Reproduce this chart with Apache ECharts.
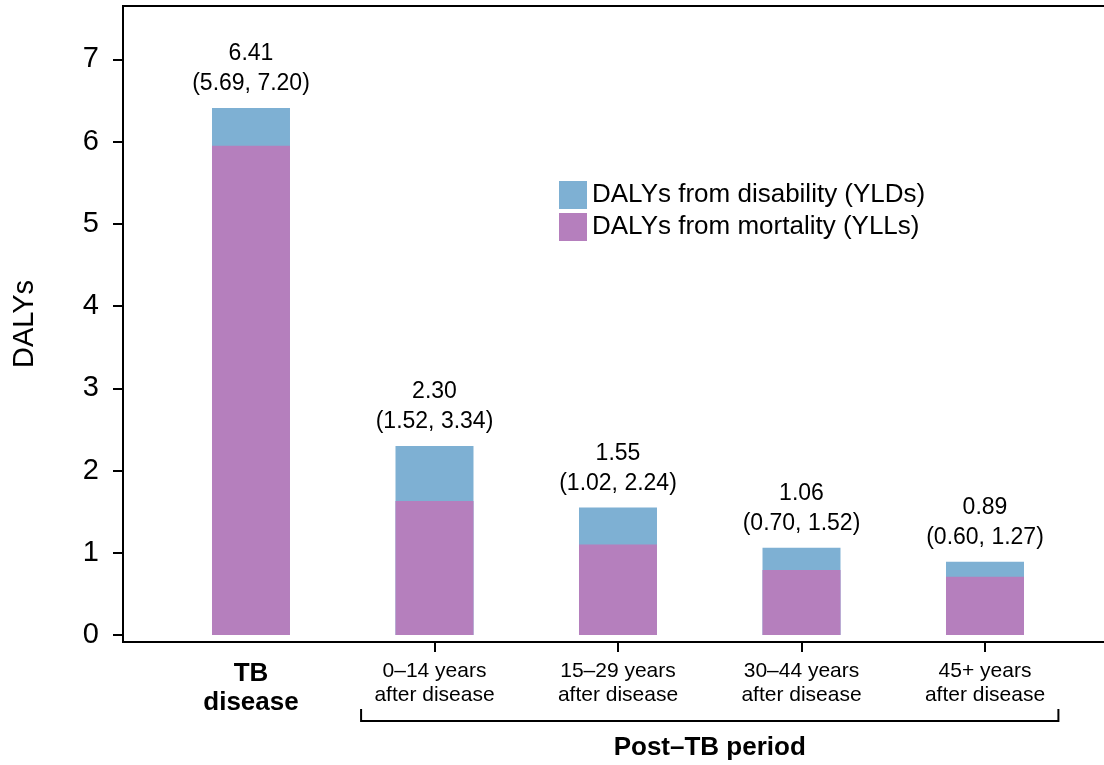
<!DOCTYPE html>
<html>
<head>
<meta charset="utf-8">
<script src="https://cdn.jsdelivr.net/npm/echarts@6.0.0/dist/echarts.min.js"></script>
<style>
  html, body { margin: 0; padding: 0; background: #fff; }
  #chart { width: 1104px; height: 765px; }
</style>
</head>
<body>
<div id="chart"></div>
<script>
// Chart data
const categories = ['TB\ndisease', '0–14 years\nafter disease', '15–29 years\nafter disease',
  '30–44 years\nafter disease', '45+ years\nafter disease'];
const totals = [6.41, 2.30, 1.55, 1.06, 0.89];      // all DALYs (YLL + YLD)
const yllValues = [5.95, 1.63, 1.10, 0.79, 0.71];   // mortality part
const lowerCI = ['5.69', '1.52', '1.02', '0.70', '0.60'];
const upperCI = ['7.20', '3.34', '2.24', '1.52', '1.27'];
const yTicks = [0, 1, 2, 3, 4, 5, 6, 7];
const postTbTicks = [2, 3, 4, 5];
const postTbSpan = [1.6, 5.4];

const FONT = 'Liberation Sans';
const chart = echarts.init(document.getElementById('chart'));

const positions = categories.map((c, i) => i + 1);

const option = {
  backgroundColor: '#fff',
  animation: false,
  textStyle: { fontFamily: FONT, color: '#000' },
  grid: {
    left: 123, top: 6, right: -10, bottom: 123,
    outerBoundsMode: 'none',
    show: true, borderColor: '#000', borderWidth: 2
  },
  legend: {
    orient: 'vertical',
    left: 554, top: 176,
    itemWidth: 28, itemHeight: 28, itemGap: 4,
    icon: 'rect',
    data: ['DALYs from disability (YLDs)', 'DALYs from mortality (YLLs)'],
    textStyle: { fontSize: 26, color: '#000', fontFamily: FONT }
  },
  xAxis: {
    type: 'value',
    min: 0.3025, max: 5.703,
    splitLine: { show: false },
    axisLine: { show: true, onZero: false, lineStyle: { color: '#000', width: 2 } },
    axisTick: { show: true, length: 10, customValues: postTbTicks, lineStyle: { color: '#000', width: 2 } },
    axisLabel: {
      customValues: positions,
      margin: 17,
      color: '#000',
      formatter: function (v) {
        const i = Math.round(v) - 1;
        const lines = categories[i].split('\n');
        const tag = i === 0 ? 'b' : 'n';
        return lines.map(l => '{' + tag + '|' + l + '}').join('\n');
      },
      rich: {
        b: { fontFamily: FONT, fontWeight: 'bold', fontSize: 26, lineHeight: 29, color: '#000' },
        n: { fontFamily: FONT, fontSize: 21, lineHeight: 24, color: '#000' }
      }
    }
  },
  yAxis: {
    type: 'value',
    min: -0.085, max: 7.65,
    name: 'DALYs',
    nameLocation: 'middle',
    nameGap: 84,
    nameTextStyle: { fontSize: 29, color: '#000', fontFamily: FONT },
    splitLine: { show: false },
    axisLine: { show: true, onZero: false, lineStyle: { color: '#000', width: 2 } },
    axisTick: { show: true, length: 10, customValues: yTicks, lineStyle: { color: '#000', width: 2 } },
    axisLabel: { customValues: yTicks, margin: 24, fontSize: 29, color: '#000', fontFamily: FONT }
  },
  series: [
    {
      // full bar height; the mortality part is drawn over its lower section
      name: 'DALYs from disability (YLDs)',
      type: 'bar',
      barWidth: 78,
      barGap: '-100%',
      itemStyle: { color: '#7eb0d3' },
      label: {
        show: true,
        position: 'top',
        distance: 9,
        fontSize: 23,
        lineHeight: 30,
        color: '#000',
        fontFamily: FONT,
        formatter: function (p) {
          const i = p.dataIndex;
          return totals[i].toFixed(2) + '\n(' + lowerCI[i] + ', ' + upperCI[i] + ')';
        }
      },
      data: positions.map((x, i) => [x, totals[i]])
    },
    {
      name: 'DALYs from mortality (YLLs)',
      type: 'bar',
      barWidth: 78,
      barGap: '-100%',
      itemStyle: { color: '#b57fbd' },
      data: positions.map((x, i) => [x, yllValues[i]])
    }
  ]
};

chart.setOption(option);

// Bracket under the post-TB categories, placed through the x axis scale
const xa = chart.convertToPixel({ xAxisIndex: 0 }, postTbSpan[0]);
const xb = chart.convertToPixel({ xAxisIndex: 0 }, postTbSpan[1]);
chart.setOption({
  graphic: [
    {
      type: 'polyline',
      shape: { points: [[xa, 709], [xa, 721], [xb, 721], [xb, 709]] },
      style: { stroke: '#000', lineWidth: 2, fill: null }
    },
    {
      type: 'text',
      x: (xa + xb) / 2, y: 748,
      style: {
        text: 'Post–TB period',
        font: 'bold 26px "Liberation Sans"',
        fill: '#000',
        align: 'center',
        verticalAlign: 'middle'
      }
    }
  ]
});

window.addEventListener('resize', function () {
  chart.resize();
});
</script>
</body>
</html>
